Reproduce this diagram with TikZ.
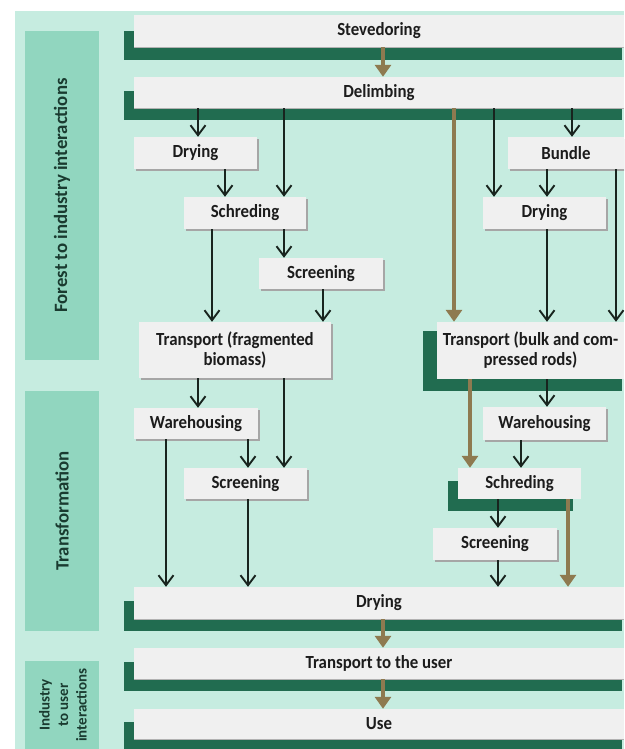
\documentclass[tikz,border=0pt]{standalone}
\usepackage{fontspec}
\setmainfont{Carlito}
\newfontfamily\boxfont[FakeStretch=0.91]{Carlito}
\usetikzlibrary{arrows.meta,shadows}
\definecolor{bgmint}{HTML}{C6ECE0}
\definecolor{barmint}{HTML}{91D6BF}
\definecolor{deepgreen}{HTML}{216C50}
\definecolor{boxfill}{HTML}{F0F0F0}
\definecolor{boxtext}{HTML}{1C1C1C}
\definecolor{labeltext}{HTML}{1A3B30}
\definecolor{flowbrown}{HTML}{8E7A50}
\definecolor{flowdark}{HTML}{18241E}
\begin{document}
\begin{tikzpicture}[x=1pt,y=-1pt,
  phasebar/.style={fill=barmint, inner sep=0pt},
  phaselabel/.style={rotate=90, text=labeltext, align=center,
    font=\fontsize{18.8}{20}\selectfont\bfseries},
  widebox/.style={fill=boxfill, inner sep=0pt, minimum width=490pt, text=boxtext,
    font=\boxfont\fontsize{18.5}{20}\selectfont\bfseries,
    general shadow={fill=black!30, shadow yshift=-1.4pt}},
  stagebox/.style={fill=boxfill, inner sep=0pt, text=boxtext, align=center,
    font=\boxfont\fontsize{18.5}{20}\selectfont\bfseries},
  dropped/.style={general shadow={fill=black!35, shadow xshift=1.6pt, shadow yshift=-1.6pt}},
  baseplate/.style={fill=deepgreen},
  flow/.style={draw=flowdark, line width=1.9pt,
    -{Straight Barb[length=10pt,width=15pt,line width=1.9pt]}},
  mainflow/.style={draw=flowbrown, line width=4.5pt,
    -{Triangle[length=12pt,width=16pt]}}
]
\useasboundingbox (0,0) rectangle (624,749);
\clip (0,0) rectangle (624,749);
\fill[white] (0,0) rectangle (624,749);
\fill[bgmint] (15,11) rectangle (624,749);

% phase bars on the left
\node[phasebar, minimum width=74pt, minimum height=329pt] (phaseA) at (62,195.5) {};
\node[phasebar, minimum width=74pt, minimum height=240pt] (phaseB) at (62,511) {};
\node[phasebar, minimum width=74pt, minimum height=88pt] (phaseC) at (62,705) {};
\node[phaselabel] (labA) at (phaseA.center) {Forest to industry interactions};
\node[phaselabel] (labB) at (phaseB.center) {Transformation};
\node[phaselabel, font=\fontsize{15}{18.5}\selectfont\bfseries] (labC) at (63,705) {Industry\\to user\\interactions};

% dark green base plates under the main steps
\fill[baseplate] (124,31) rectangle (622,60);
\fill[baseplate] (124,91) rectangle (622,120);
\fill[baseplate] (423,331) rectangle (622,391);
\fill[baseplate] (448,481) rectangle (573,511);
\fill[baseplate] (124,601) rectangle (622,631);
\fill[baseplate] (124,662) rectangle (622,691);
\fill[baseplate] (124,722) rectangle (622,749);

% main chain
\node[widebox, minimum height=32pt] (stev) at (379,31) {Stevedoring};
\node[widebox, minimum height=31pt] (delim) at (379,92.5) {Delimbing};
\node[widebox, minimum height=32pt] (dryB) at (379,603) {Drying};
\node[widebox, minimum height=31pt] (tru) at (379,663.5) {Transport to the user};
\node[widebox, minimum height=30pt] (use) at (379,724) {Use};

% left branch
\node[stagebox, dropped, minimum width=123pt, minimum height=32pt] (dryL) at (195.5,153) {Drying};
\node[stagebox, dropped, minimum width=122pt, minimum height=32pt] (schL) at (245,213) {Schreding};
\node[stagebox, dropped, minimum width=124pt, minimum height=31pt] (scrL) at (321,273.5) {Screening};
\node[stagebox, dropped, minimum width=192pt, minimum height=56pt] (trfrag) at (235,350) {Transport (fragmented\\biomass)};
\node[stagebox, dropped, minimum width=124pt, minimum height=31pt] (wareL) at (196,423.5) {Warehousing};
\node[stagebox, dropped, minimum width=123pt, minimum height=31pt] (scrL2) at (245.5,483.5) {Screening};

% right branch
\node[stagebox, dropped, minimum width=116pt, minimum height=32pt] (bundle) at (566,153) {Bundle};
\node[stagebox, dropped, minimum width=123pt, minimum height=32pt] (dryR) at (544.5,213) {Drying};
\node[stagebox, minimum width=187pt, minimum height=57pt] (trbulk) at (530.5,350.5) {Transport (bulk and com-\\pressed rods)};
\node[stagebox, dropped, minimum width=123pt, minimum height=33pt] (wareR) at (544.5,423.5) {Warehousing};
\node[stagebox, minimum width=123pt, minimum height=31pt] (schR) at (519.5,483.5) {Schreding};
\node[stagebox, dropped, minimum width=124pt, minimum height=32pt] (scrR) at (495,544) {Screening};

% flow columns
\coordinate (k1) at (166,0);
\coordinate (k2) at (198,0);
\coordinate (k3) at (212,0);
\coordinate (k4) at (225,0);
\coordinate (k5) at (248,0);
\coordinate (k6) at (284,0);
\coordinate (k7) at (323,0);
\coordinate (k8) at (383,0);
\coordinate (k9) at (454,0);
\coordinate (k10) at (470,0);
\coordinate (k11) at (494,0);
\coordinate (k12) at (498,0);
\coordinate (k13) at (521,0);
\coordinate (k14) at (547,0);
\coordinate (k15) at (568,0);
\coordinate (k16) at (572,0);
\coordinate (k17) at (616,0);

% main chain flows
\draw[mainflow] (stev.south -| k8) -- (delim.north -| k8);
\draw[mainflow] (dryB.south -| k8) -- (tru.north -| k8);
\draw[mainflow] (tru.south -| k8) -- (use.north -| k8);

% left branch flows
\draw[flow] (delim.south -| k2) -- (dryL.north -| k2);
\draw[flow] (delim.south -| k6) -- (schL.north -| k6);
\draw[flow] (dryL.south -| k4) -- (schL.north -| k4);
\draw[flow] (schL.south -| k6) -- (scrL.north -| k6);
\draw[flow] (schL.south -| k3) -- (trfrag.north -| k3);
\draw[flow] (scrL.south -| k7) -- (trfrag.north -| k7);
\draw[flow] (trfrag.south -| k2) -- (wareL.north -| k2);
\draw[flow] (trfrag.south -| k6) -- (scrL2.north -| k6);
\draw[flow] (wareL.south -| k5) -- (scrL2.north -| k5);
\draw[flow] (wareL.south -| k1) -- (dryB.north -| k1);
\draw[flow] (scrL2.south -| k5) -- (dryB.north -| k5);

% right branch flows
\draw[mainflow] (delim.south -| k9) -- (trbulk.north -| k9);
\draw[flow] (delim.south -| k11) -- (dryR.north -| k11);
\draw[flow] (delim.south -| k16) -- (bundle.north -| k16);
\draw[flow] (bundle.south -| k14) -- (dryR.north -| k14);
\draw[flow] (bundle.south -| k17) -- (trbulk.north -| k17);
\draw[flow] (dryR.south -| k14) -- (trbulk.north -| k14);
\draw[mainflow] (trbulk.south -| k10) -- (schR.north -| k10);
\draw[flow] (trbulk.south -| k14) -- (wareR.north -| k14);
\draw[flow] (wareR.south -| k13) -- (schR.north -| k13);
\draw[flow] (schR.south -| k12) -- (scrR.north -| k12);
\draw[mainflow] (schR.south -| k15) -- (dryB.north -| k15);
\draw[flow] (scrR.south -| k12) -- (dryB.north -| k12);
\end{tikzpicture}
\end{document}
